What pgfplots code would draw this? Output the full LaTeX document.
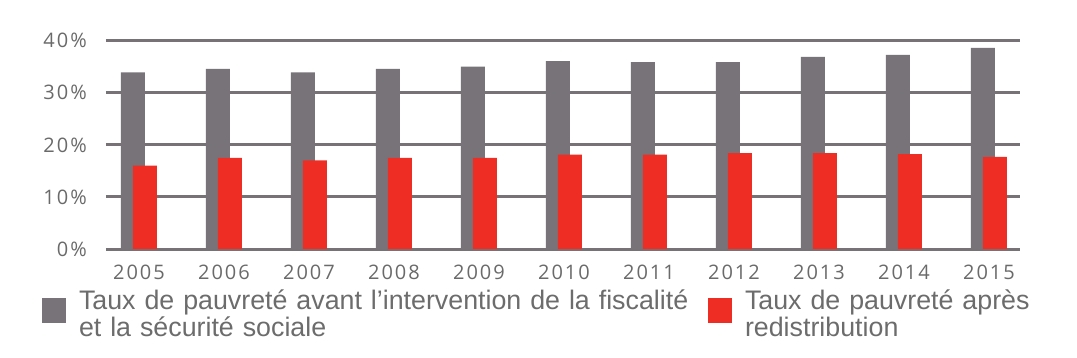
\documentclass[border=0pt]{standalone}
\usepackage{pgfplots}
\pgfplotsset{compat=1.18}
\usepackage{fontspec}
\setmainfont{Liberation Sans}
\newfontfamily\tickfont[LetterSpace=10]{Open Sans}
\definecolor{barGray}{HTML}{787378}
\definecolor{barRed}{HTML}{EE2D24}
\definecolor{gridGray}{HTML}{767276}
\definecolor{tickText}{HTML}{6A6A6A}
\definecolor{legText}{HTML}{6C6C6C}
\pgfplotsset{
  sqlegend/.style={legend image code/.code={\fill[##1] (0pt,-23pt) rectangle (24pt,2pt);}},
}
\begin{document}
\begin{tikzpicture}
\useasboundingbox (0,0) rectangle (1077pt,357pt);
\begin{axis}[
  at={(106pt,108pt)}, anchor=south west,
  scale only axis, width=914pt, height=208.3pt,
  xmin=-0.388, xmax=10.365, ymin=0, ymax=40,
  axis line style={draw=none},
  major tick length=0pt,
  ymajorgrids, xmajorgrids=false,
  grid style={line width=3pt, gridGray},
  xtick={0,1,2,3,4,5,6,7,8,9,10},
  xticklabels={2005,2006,2007,2008,2009,2010,2011,2012,2013,2014,2015},
  ytick={0,10,20,30,40},
  yticklabels={0\%,10\%,20\%,30\%,40\%},
  ticklabel style={font=\tickfont\fontsize{20}{20}\selectfont, text=tickText, inner sep=0pt},
  xticklabel shift=16pt,
  yticklabel shift=19pt,
  legend style={at={(axis description cs:-0.07,-0.195)}, anchor=north west,
    draw=none, fill=none, inner sep=0pt, outer sep=0pt,
    /tikz/every odd column/.style={column sep=13pt},
    /tikz/every even column/.style={column sep=9pt},
    nodes={inner sep=0pt, font=\fontsize{26.8}{27}\selectfont, text=legText, text width=620pt, align=left}},
  legend columns=2,
]
\addplot[ybar, bar width=0.282, bar shift=-0.0706, fill=barGray, draw=none, sqlegend]
  coordinates {(0,33.9) (1,34.6) (2,33.9) (3,34.6) (4,35.0) (5,36.1) (6,35.9) (7,35.9) (8,36.9) (9,37.3) (10,38.6)};
\addlegendentry{Taux de pauvreté avant l’intervention de la fiscalité\\et la sécurité sociale}
\addplot[ybar, bar width=0.282, bar shift=0.0706, fill=barRed, draw=none, sqlegend]
  coordinates {(0,16.0) (1,17.5) (2,17.0) (3,17.5) (4,17.5) (5,18.1) (6,18.1) (7,18.4) (8,18.4) (9,18.2) (10,17.7)};
\addlegendentry{Taux de pauvreté après\\redistribution}
\end{axis}
\end{tikzpicture}
\end{document}
